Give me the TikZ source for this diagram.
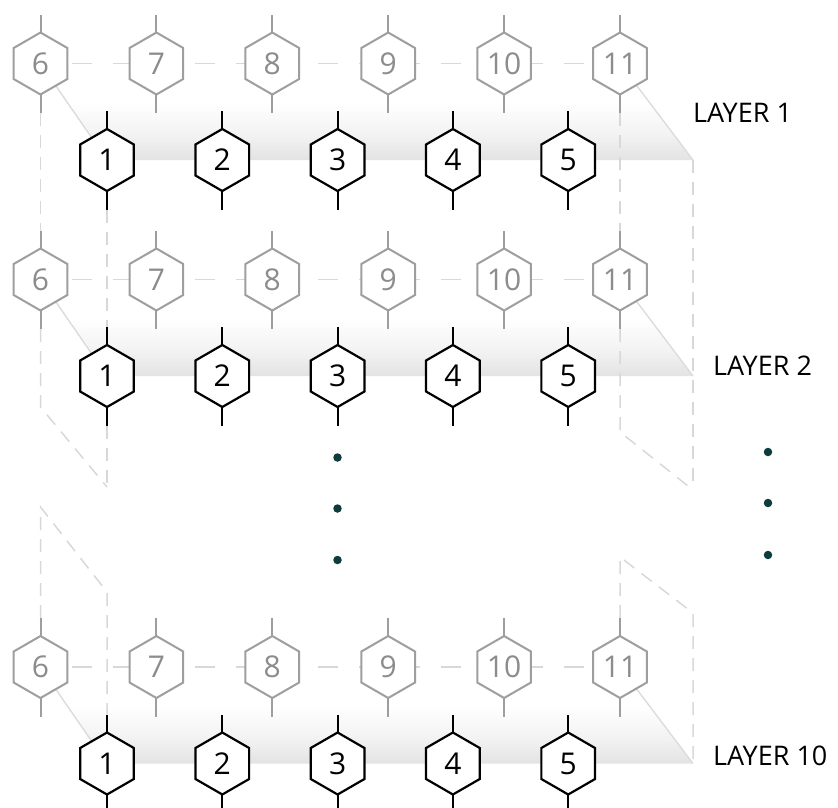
\documentclass[tikz,border=0pt]{standalone}
\usepackage{fontspec}
\setmainfont{Open Sans}
\usetikzlibrary{shapes.geometric}
\definecolor{hexgrey}{HTML}{9E9E9E}
\definecolor{numgrey}{HTML}{8C8C8C}
\definecolor{dashgrey}{HTML}{D8D8D8}
\definecolor{edgegrey}{HTML}{DCDCDC}
\definecolor{dotcol}{HTML}{0E3B3B}
\pgfdeclareverticalshading{planeshade}{100bp}{color(0bp)=(black!11); color(25bp)=(black!11); color(38bp)=(black!5); color(55bp)=(white); color(100bp)=(white)}
\pgfdeclarelayer{bg}
\pgfsetlayers{bg,main}
\begin{document}
\begin{tikzpicture}[x=1pt,y=-1pt,
  hex/.style={regular polygon, regular polygon sides=6, shape border rotate=30, minimum size=62pt, inner sep=0pt, outer sep=0pt, fill=white},
  greyhex/.style={hex, draw=hexgrey, line width=2pt},
  blackhex/.style={hex, draw=black, line width=2.2pt},
  greynum/.style={text=numgrey, font=\fontsize{30}{30}\selectfont, inner sep=0pt},
  blacknum/.style={text=black, font=\fontsize{30}{30}\selectfont, inner sep=0pt},
  greystub/.style={draw=hexgrey, line width=2pt},
  blackstub/.style={draw=black, line width=2.2pt},
  framedash/.style={draw=dashgrey, line width=1.5pt, dash pattern=on 13pt off 9pt},
  rowdash/.style={draw=dashgrey, line width=1.7pt, dash pattern=on 20pt off 21pt, dash phase=9.5pt},
  planeedge/.style={draw=edgegrey, line width=1.4pt},
  layerlabel/.style={font=\fontsize{27}{27}\selectfont, anchor=base west, inner sep=0pt},
  dotnode/.style={circle, fill=dotcol, inner sep=0pt, minimum size=8.5pt}
]
\useasboundingbox (0,0) rectangle (838,807);

\foreach \L/\gy/\by in {a/63.5/160, b/279.5/376, c/667/763.5} {
  \coordinate (p\L1) at (40.5,\gy);
  \coordinate (p\L2) at (620,\gy);
  \coordinate (p\L3) at (693,\by);
  \coordinate (p\L4) at (107,\by);
  \foreach \i in {6,...,11} {
    \pgfmathsetmacro{\gx}{40.5+115.9*(\i-6)}
    \node[greyhex] (g\L\i) at (\gx,\gy) {};
    \node[greynum] (n\L\i) at (g\L\i.center) {\i};
    \draw[greystub] (g\L\i.north) -- ++(0,-18) coordinate (g\L\i-t);
    \draw[greystub] (g\L\i.south) -- ++(0,18.5) coordinate (g\L\i-b);
  }
  \foreach \i in {1,...,5} {
    \pgfmathsetmacro{\bx}{107+115.3*(\i-1)}
    \node[blackhex] (b\L\i) at (\bx,\by) {};
    \node[blacknum] (m\L\i) at (b\L\i.center) {\i};
    \draw[blackstub] (b\L\i.north) -- ++(0,-18) coordinate (b\L\i-t);
    \draw[blackstub] (b\L\i.south) -- ++(0,18.5) coordinate (b\L\i-b);
  }
}

\coordinate (c1) at (40.5,407);
\coordinate (c2) at (107,487);
\coordinate (c3) at (620,432);
\coordinate (c4) at (693,490);
\coordinate (c5) at (40.5,507);
\coordinate (c6) at (107,592);
\coordinate (c7) at (620,557);
\coordinate (c8) at (693,613);

\begin{pgfonlayer}{bg}
  \foreach \L in {a,b,c} {
    \shade[shading=planeshade] (p\L1) -- (p\L2) -- (p\L3) -- (p\L4) -- cycle;
    \draw[planeedge] (p\L1) -- (p\L4);
    \draw[planeedge] (p\L2) -- (p\L3);
    \draw[rowdash] (g\L6.center) -- (g\L11.center);
  }
  % upper box
  \draw[framedash] (ga6-b) -- (gb6-t);
  \draw[framedash] (gb6-b) -- (c1) -- (c2);
  \draw[framedash] (ba1-b) -- (bb1-t);
  \draw[framedash] (bb1-b) -- (c2);
  \draw[framedash] (ga11-b) -- (gb11-t);
  \draw[framedash] (gb11-b) -- (c3) -- (c4);
  \draw[framedash] (pa3) -- (c4);
  % lower box
  \draw[framedash] (gc6-t) -- (c5) -- (c6) -- (bc1-t);
  \draw[framedash] (gc11-t) -- (c7) -- (c8) -- (pc3);
\end{pgfonlayer}

\node[dotnode] (d1) at (337.5,457.5) {};
\node[dotnode] (d2) at (337.5,508.5) {};
\node[dotnode] (d3) at (337.5,560) {};
\node[dotnode] (e1) at (768,452) {};
\node[dotnode] (e2) at (768,503) {};
\node[dotnode] (e3) at (768,555) {};

\node[layerlabel] (lab1) at (693,122) {LAYER 1};
\node[layerlabel] (lab2) at (713,375) {LAYER 2};
\node[layerlabel] (lab10) at (713,765) {LAYER 10};
\end{tikzpicture}
\end{document}
